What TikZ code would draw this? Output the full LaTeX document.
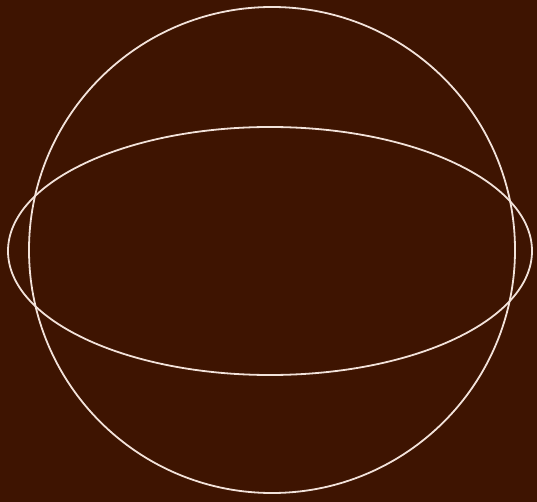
\documentclass[tikz,border=0pt]{standalone}
\definecolor{bgbrown}{HTML}{3E1401}
\definecolor{linecream}{HTML}{F2E2DA}
\tikzset{outline/.style={draw=linecream, line width=1.8pt}}
\begin{document}
\begin{tikzpicture}[x=1pt,y=-1pt]
\fill[bgbrown] (0,0) rectangle (537,502);
\useasboundingbox (0,0) rectangle (537,502);
\coordinate (cc) at (272,250);
\coordinate (ec) at (270,251);
\draw[outline] (cc) circle [radius=243];
\draw[outline] (ec) ellipse [x radius=262, y radius=124];
\end{tikzpicture}
\end{document}
